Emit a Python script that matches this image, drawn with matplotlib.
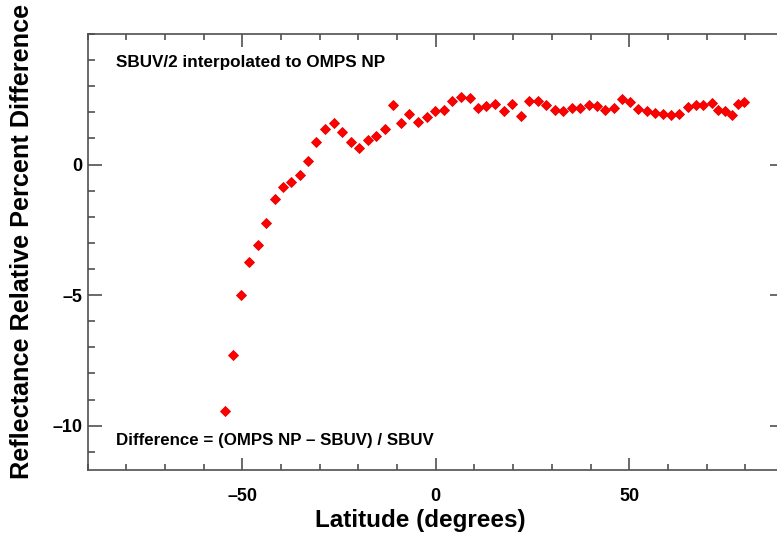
import matplotlib
matplotlib.use("Agg")
import matplotlib.pyplot as plt
from matplotlib.ticker import MultipleLocator, FixedLocator

plt.rcParams['font.family'] = ['Liberation Sans', 'DejaVu Sans']

latitude = [-54.6, -52.5, -50.4, -48.2, -46.0, -43.8, -41.6, -39.5, -37.4, -35.2,
            -33.0, -30.9, -28.7, -26.4, -24.3, -22.0, -19.9, -17.6, -15.5, -13.2,
            -11.1, -8.9, -6.8, -4.5, -2.3, -0.1, 2.1, 4.3, 6.4, 8.8,
            10.9, 13.1, 15.3, 17.6, 19.7, 21.9, 24.0, 26.3, 28.4, 30.7,
            32.8, 35.1, 37.2, 39.5, 41.6, 43.8, 46.0, 48.1, 50.3, 52.4,
            54.6, 56.7, 58.8, 60.9, 63.0, 65.1, 67.2, 69.2, 71.3, 73.0,
            74.9, 76.6, 78.1, 79.6]
difference = [-9.44, -7.31, -5.00, -3.72, -3.10, -2.25, -1.33, -0.86, -0.66, -0.39,
              0.15, 0.85, 1.35, 1.59, 1.25, 0.87, 0.62, 0.95, 1.08, 1.35,
              2.27, 1.60, 1.93, 1.62, 1.83, 2.05, 2.07, 2.42, 2.59, 2.56,
              2.18, 2.23, 2.33, 2.05, 2.33, 1.87, 2.43, 2.44, 2.27, 2.10,
              2.04, 2.18, 2.18, 2.28, 2.23, 2.08, 2.18, 2.50, 2.41, 2.14,
              2.04, 1.97, 1.92, 1.89, 1.95, 2.20, 2.28, 2.28, 2.34, 2.08,
              2.05, 1.89, 2.30, 2.41]

x_major = [-50, 0, 50]
x_labels = ['\u201350', '0', '50']
y_major = [-10, -5, 0]
y_labels = ['\u201310', '\u20135', '0']

W, H = 777, 535
fig = plt.figure(figsize=(W / 100, H / 100), dpi=100)
left, right, top, bottom = 87.7, 783.9, 34, 470
ax = fig.add_axes([left / W, 1 - bottom / H, (right - left) / W, (bottom - top) / H])

ax.plot(latitude, difference, linestyle='none', marker='D', markersize=5.3,
        color='#ff0000', markeredgecolor='#e80000', markeredgewidth=0.6)

ax.set_xlim(-90, 90)
ax.set_ylim(-11.7, 5)

spine_col = '#505050'
for s in ax.spines.values():
    s.set_color(spine_col)
    s.set_linewidth(1.2)

ax.xaxis.set_major_locator(FixedLocator(x_major))
ax.set_xticklabels(x_labels)
ax.xaxis.set_minor_locator(MultipleLocator(10))
ax.yaxis.set_major_locator(FixedLocator(y_major))
ax.set_yticklabels(y_labels)
ax.yaxis.set_minor_locator(MultipleLocator(1))

ax.tick_params(axis='both', which='both', direction='in', top=True, right=True,
               color=spine_col, width=1.2)
ax.tick_params(axis='x', which='major', length=9, pad=13, labelsize=13)
ax.tick_params(axis='x', which='minor', length=4.5)
ax.tick_params(axis='y', which='major', length=10, pad=4, labelsize=13)
ax.tick_params(axis='y', which='minor', length=5)
for lab in ax.get_xticklabels() + ax.get_yticklabels():
    lab.set_fontweight('bold')

fig.text(420 / W, 1 - 520 / H, 'Latitude (degrees)', ha='center', va='center',
         fontsize=17.5, fontweight='bold')
fig.text(22 / W, 1 - 241.5 / H, 'Reflectance Relative Percent Difference',
         ha='center', va='center', rotation=90, fontsize=18.2, fontweight='bold')

fig.text(116 / W, 1 - 62 / H, 'SBUV/2 interpolated to OMPS NP', ha='left',
         va='center', fontsize=12.3, fontweight='bold')
fig.text(116 / W, 1 - 440 / H, 'Difference = (OMPS NP \u2013 SBUV) / SBUV', ha='left',
         va='center', fontsize=12.2, fontweight='bold')

fig.savefig('out.png', dpi=100)
